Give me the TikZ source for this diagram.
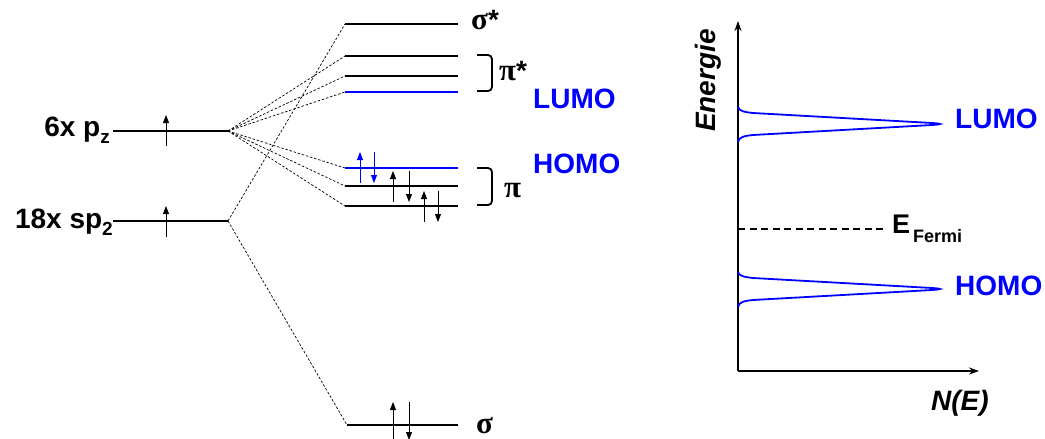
\documentclass[tikz,border=0pt]{standalone}
\usepackage{fontspec}
\setmainfont{Liberation Sans}
\newfontfamily\grfont{Liberation Serif}
\usetikzlibrary{arrows.meta}
\definecolor{myblue}{RGB}{0,0,255}
\tikzset{
  level/.style={line width=2.7pt},
  bluelevel/.style={level, draw=myblue},
  conn/.style={line width=0.7pt, dash pattern=on 2.5pt off 1.8pt},
  spin/.style={line width=0.9pt, -{Triangle[length=8pt,width=6pt]}},
  lbl/.style={inner sep=0pt, font=\fontsize{28}{30}\selectfont\bfseries},
  bluelbl/.style={lbl, text=myblue},
  axis/.style={line width=2pt, -{Stealth[length=10pt,width=7pt]}},
  peak/.style={draw=myblue, line width=1.8pt},
}
\newcommand\grk[1]{{\fontsize{31}{31}\selectfont\grfont #1}}
\begin{document}
\begin{tikzpicture}[x=1pt,y=-1pt]
\useasboundingbox (0,0) rectangle (1045,439);

% ---- left atomic levels
\coordinate (pz-l) at (113,131);  \coordinate (pz-r) at (228,131);
\coordinate (sp-l) at (113,221);  \coordinate (sp-r) at (228,221);
\draw[level] (pz-l) -- (pz-r);
\draw[level] (sp-l) -- (sp-r);
\node[lbl, anchor=base east] (pzlbl) at (110,136) {6x p\raisebox{-0.28em}{\fontsize{19}{19}\selectfont z}};
\node[lbl, anchor=base east] (splbl) at (113,228) {18x sp\raisebox{-0.28em}{\fontsize{19}{19}\selectfont 2}};
\coordinate (pzs-a) at (166,146); \coordinate (pzs-b) at (166,115);
\coordinate (sps-a) at (166,237); \coordinate (sps-b) at (166,206);
\draw[spin] (pzs-a) -- (pzs-b);
\draw[spin] (sps-a) -- (sps-b);

% ---- molecular levels
\coordinate (ss-l) at (345,24);   \coordinate (ss-r) at (458,24);
\coordinate (ps1-l) at (345,56);  \coordinate (ps1-r) at (458,56);
\coordinate (ps2-l) at (345,76);  \coordinate (ps2-r) at (458,76);
\coordinate (ps3-l) at (345,92);  \coordinate (ps3-r) at (458,92);
\coordinate (p1-l) at (345,168);  \coordinate (p1-r) at (458,168);
\coordinate (p2-l) at (345,186);  \coordinate (p2-r) at (458,186);
\coordinate (p3-l) at (345,206);  \coordinate (p3-r) at (458,206);
\coordinate (s-l) at (347,425);   \coordinate (s-r) at (458,425);
\draw[level] (ss-l) -- (ss-r);
\draw[level] (ps1-l) -- (ps1-r);
\draw[level] (ps2-l) -- (ps2-r);
\draw[bluelevel] (ps3-l) -- (ps3-r);
\draw[bluelevel] (p1-l) -- (p1-r);
\draw[level] (p2-l) -- (p2-r);
\draw[level] (p3-l) -- (p3-r);
\draw[level] (s-l) -- (s-r);

% ---- dashed correlation lines
\foreach \t in {ps1-l,ps2-l,ps3-l,p1-l,p2-l,p3-l} \draw[conn] (pz-r) -- (\t);
\draw[conn] (sp-r) -- (ss-l);
\draw[conn] (sp-r) -- (s-l);

% ---- spins on pi levels and sigma
\draw[spin, draw=myblue, fill=myblue] (360,183) -- (360,152);
\draw[spin, draw=myblue, fill=myblue] (374,152) -- (374,183);
\draw[spin] (393,202) -- (393,171);
\draw[spin] (409,171) -- (409,202);
\draw[spin] (424,222) -- (424,191);
\draw[spin] (438,191) -- (438,222);
\draw[spin] (393,440) -- (393,402);
\draw[spin] (409,402) -- (409,440);

% ---- brackets
\draw[line width=1.8pt, rounded corners=4pt] (477,55) -- (492,55) -- (492,91) -- (477,91);
\draw[line width=1.8pt, rounded corners=4pt] (477,168) -- (492,168) -- (492,205) -- (477,205);

% ---- MO labels
\node[lbl, anchor=base west] (sslbl) at (471,30) {\grk{σ}*};
\node[lbl, anchor=base west] (pslbl) at (499,80) {\grk{π}*};
\node[lbl, anchor=base west] (plbl) at (504,197) {\grk{π}};
\node[lbl, anchor=base west] (slbl) at (476,433) {\grk{σ}};
\node[bluelbl, anchor=base west] (lumo1) at (533,108) {LUMO};
\node[bluelbl, anchor=base west] (homo1) at (533,173) {HOMO};

% ---- DOS panel
\coordinate (org) at (738,371);
\coordinate (ytop) at (738,21);
\coordinate (xend) at (979,371);
\draw[axis] (org) -- (ytop);
\draw[axis] (org) -- (xend);
\node[lbl, font=\fontsize{28}{30}\selectfont\bfseries\itshape, rotate=90, anchor=base west] (elbl) at (715,132) {Energie};
\node[lbl, font=\fontsize{28}{30}\selectfont\bfseries\itshape, anchor=base west] (nlbl) at (931,410) {N(E)};

\coordinate (ef-l) at (738,229); \coordinate (ef-r) at (887,229);
\draw[line width=1.3pt, dash pattern=on 7pt off 4.5pt] (ef-l) -- (ef-r);
\node[lbl, font=\fontsize{27}{30}\selectfont\bfseries, anchor=base west] (ef) at (892,233) {E};
\node[lbl, font=\fontsize{18}{20}\selectfont\bfseries, anchor=base west] (fermi) at (913,242) {Fermi};

\foreach \yz in {124,289} {
  \draw[peak] (738,{\yz-17}) .. controls (739,{\yz-13}) and (744,{\yz-12}) .. (753,{\yz-11})
     -- (932,{\yz-1}) .. controls (938,{\yz-0.6}) and (940,{\yz-0.3}) .. (940,\yz)
     .. controls (940,{\yz+0.3}) and (938,{\yz+0.6}) .. (932,{\yz+1})
     -- (753,{\yz+11}) .. controls (744,{\yz+12}) and (739,{\yz+13}) .. (738,{\yz+18});
}
\node[bluelbl, anchor=base west] (lumo2) at (955,128) {LUMO};
\node[bluelbl, anchor=base west] (homo2) at (955,295) {HOMO};
\end{tikzpicture}
\end{document}
